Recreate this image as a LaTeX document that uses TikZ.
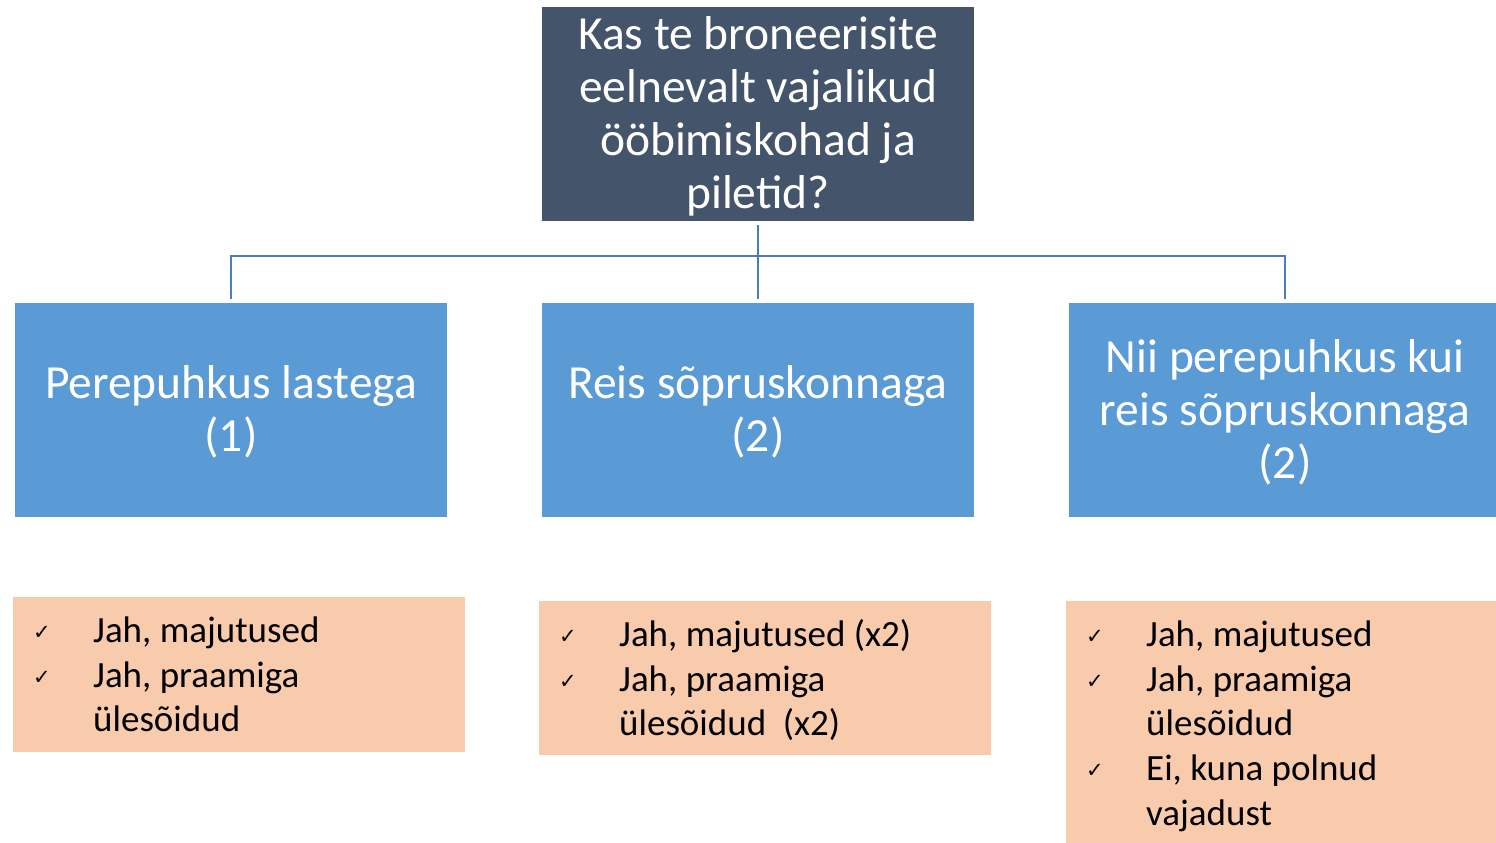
\documentclass[tikz,border=0pt]{standalone}
\usepackage{fontspec}
\setmainfont{Carlito}
\newfontfamily\dejavu{DejaVu Sans}
\definecolor{topfill}{HTML}{44546A}
\definecolor{bluefill}{HTML}{5B9BD5}
\definecolor{linecol}{HTML}{4A7EBB}
\definecolor{orangefill}{HTML}{F8CBAD}
\begin{document}
\begin{tikzpicture}[x=1pt,y=-1pt,
  box/.style={draw=none,inner sep=0pt,anchor=north west},
  bigtext/.style={text=white,align=center,font=\fontsize{47.5}{53}\selectfont},
  listtext/.style={anchor=base west,inner sep=0pt,font=\fontsize{37}{45}\selectfont},
  chk/.style={anchor=base,inner sep=0pt,font=\dejavu\fontsize{21}{24}\selectfont},
  conn/.style={draw=linecol,line width=2.2pt}]
\useasboundingbox (0,0) rectangle (1496,843);
% top
\fill[topfill] (542,7) rectangle (974,221);
\node[bigtext] (top) at (758,116) {Kas te broneerisite\\eelnevalt vajalikud\\ööbimiskohad ja\\piletid?};
% blue boxes
\fill[bluefill] (15,303) rectangle (447,517);
\fill[bluefill] (542,303) rectangle (974,517);
\fill[bluefill] (1069,303) rectangle (1496,517);
\node[bigtext] (b1) at (231,412) {Perepuhkus lastega\\(1)};
\node[bigtext] (b2) at (758,412) {Reis sõpruskonnaga\\(2)};
\node[bigtext] (b3) at (1285,412) {Nii perepuhkus kui\\reis sõpruskonnaga\\(2)};
% connectors
\coordinate (ct) at (758,225);
\coordinate (c1) at (231,299);
\coordinate (c2) at (758,299);
\coordinate (c3) at (1285,299);
\draw[conn] (ct) -- (c2);
\draw[conn] (c1) -- (231,256) -- (1285,256) -- (c3);
% orange boxes
\fill[orangefill] (13,597) rectangle (465,752);
\fill[orangefill] (539,601) rectangle (991,755);
\fill[orangefill] (1066,601) rectangle (1496,843);
% list 1
\node[chk] (k11) at (42,639) {✓};
\node[chk] (k12) at (42,684) {✓};
\node[listtext] (t11) at (93,642) {Jah, majutused};
\node[listtext] (t12) at (93,687) {Jah, praamiga};
\node[listtext] (t13) at (93,731) {ülesõidud};
% list 2
\node[chk] (k21) at (568,643) {✓};
\node[chk] (k22) at (568,688) {✓};
\node[listtext] (t21) at (619,646) {Jah, majutused (x2)};
\node[listtext] (t22) at (619,691) {Jah, praamiga};
\node[listtext] (t23) at (619,735) {ülesõidud\ \ (x2)};
% list 3
\node[chk] (k31) at (1095,643) {✓};
\node[chk] (k32) at (1095,688) {✓};
\node[chk] (k33) at (1095,777) {✓};
\node[listtext] (t31) at (1146,646) {Jah, majutused};
\node[listtext] (t32) at (1146,691) {Jah, praamiga};
\node[listtext] (t33) at (1146,735) {ülesõidud};
\node[listtext] (t34) at (1146,780) {Ei, kuna polnud};
\node[listtext] (t35) at (1146,825) {vajadust};
\end{tikzpicture}
\end{document}
